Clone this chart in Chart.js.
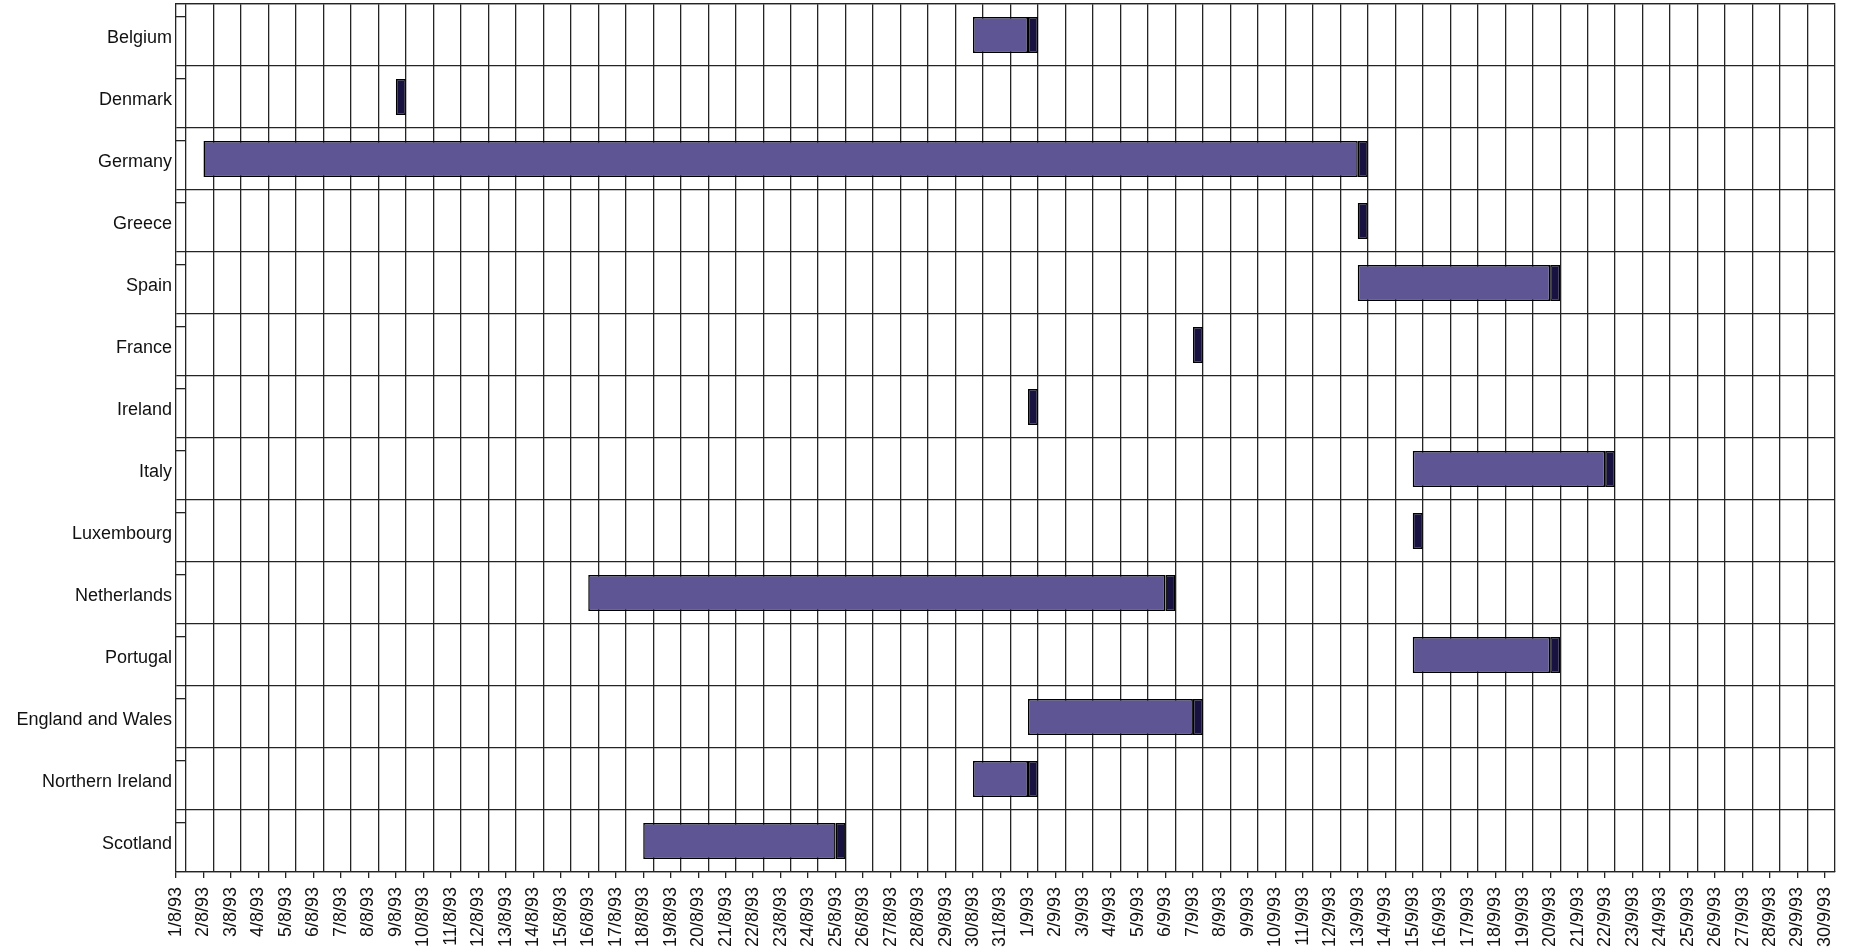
<!DOCTYPE html>
<html>
<head>
<meta charset="utf-8">
<script src="https://cdn.jsdelivr.net/npm/chart.js@4"></script>
<style>
  html, body { margin: 0; padding: 0; background: #fff; }
  #grafico { display: block; }
</style>
</head>
<body>
<canvas id="grafico" width="1850" height="952"></canvas>
<script>
// Paises y fechas de cada tramo
const paises = [
  'Belgium', 'Denmark', 'Germany', 'Greece', 'Spain', 'France', 'Ireland',
  'Italy', 'Luxembourg', 'Netherlands', 'Portugal', 'England and Wales',
  'Northern Ireland', 'Scotland'
];

const fechas = [
  '1/8/93', '2/8/93', '3/8/93', '4/8/93', '5/8/93', '6/8/93', '7/8/93', '8/8/93',
  '9/8/93', '10/8/93', '11/8/93', '12/8/93', '13/8/93', '14/8/93', '15/8/93',
  '16/8/93', '17/8/93', '18/8/93', '19/8/93', '20/8/93', '21/8/93', '22/8/93',
  '23/8/93', '24/8/93', '25/8/93', '26/8/93', '27/8/93', '28/8/93', '29/8/93',
  '30/8/93', '31/8/93',
  '1/9/93', '2/9/93', '3/9/93', '4/9/93', '5/9/93', '6/9/93', '7/9/93', '8/9/93',
  '9/9/93', '10/9/93', '11/9/93', '12/9/93', '13/9/93', '14/9/93', '15/9/93',
  '16/9/93', '17/9/93', '18/9/93', '19/9/93', '20/9/93', '21/9/93', '22/9/93',
  '23/9/93', '24/9/93', '25/9/93', '26/9/93', '27/9/93', '28/9/93', '29/9/93',
  '30/9/93'
];

const inicio = [
  '30/8/93', '9/8/93', '2/8/93', '13/9/93', '13/9/93', '7/9/93', '1/9/93',
  '15/9/93', '15/9/93', '16/8/93', '15/9/93', '1/9/93', '30/8/93', '18/8/93'
];

const fin = [
  '1/9/93', '9/8/93', '13/9/93', '13/9/93', '20/9/93', '7/9/93', '1/9/93',
  '22/9/93', '15/9/93', '6/9/93', '20/9/93', '7/9/93', '1/9/93', '25/8/93'
];

const remateDias = 0.364; // ancho del remate oscuro (fraccion de dia)
const colorBarra = '#5d5594';
const colorRemate = '#17123f';
const colorLinea = '#242424';
const fuente = { family: "'Liberation Sans', Arial, sans-serif", size: 18 };

const barras = paises.map((p, i) => {
  const a = fechas.indexOf(inicio[i]);
  const b = fechas.indexOf(fin[i]);
  return a < b ? [a, b] : null;
});

const remates = paises.map((p, i) => {
  const b = fechas.indexOf(fin[i]);
  return [b, b + remateDias];
});

// quita el relleno automatico que mete Chart.js alrededor de los ejes
function sinRelleno(s) {
  s.paddingTop = 0;
  s.paddingBottom = 0;
  s.paddingLeft = 0;
  s.paddingRight = 0;
}

new Chart(document.getElementById('grafico'), {
  type: 'bar',
  data: {
    labels: paises,
    datasets: [
      {
        label: 'remate',
        data: remates,
        backgroundColor: colorRemate,
        borderColor: '#000',
        borderWidth: 1.5,
        borderSkipped: false,
        barPercentage: 0.58,
        categoryPercentage: 1,
        grouped: false,
        order: 0
      },
      {
        label: 'tramo',
        data: barras,
        backgroundColor: colorBarra,
        borderColor: '#000',
        borderWidth: 1.5,
        borderSkipped: false,
        barPercentage: 0.58,
        categoryPercentage: 1,
        grouped: false,
        order: 1
      }
    ]
  },
  options: {
    indexAxis: 'y',
    responsive: false,
    animation: false,
    layout: { padding: { left: 0, right: 15, top: 4, bottom: 0 } },
    plugins: {
      legend: { display: false },
      tooltip: { enabled: false }
    },
    scales: {
      x: {
        type: 'linear',
        position: 'bottom',
        min: 0,
        max: fechas.length - 1 + remateDias,
        afterBuildTicks: s => { s.ticks = fechas.map((f, i) => ({ value: i })); },
        afterFit: s => { s.height = 80; sinRelleno(s); },
        ticks: {
          autoSkip: false,
          minRotation: 90,
          maxRotation: 90,
          padding: 9,
          color: '#111',
          font: fuente,
          callback: v => fechas[v]
        },
        grid: { drawOnChartArea: false, drawTicks: true, tickLength: 6, color: colorLinea, lineWidth: 1.3 },
        border: { display: true, color: colorLinea, width: 1.3 }
      },
      // lineas verticales desplazadas respecto a las marcas
      x2: {
        type: 'linear',
        position: 'top',
        offset: false,
        min: 0,
        max: fechas.length - 1 + remateDias,
        afterBuildTicks: s => { s.ticks = fechas.map((f, i) => ({ value: i + remateDias })); },
        afterFit: s => { s.height = 0; sinRelleno(s); },
        ticks: { display: false },
        grid: { offset: false, drawOnChartArea: true, drawTicks: false, color: colorLinea, lineWidth: 1.3 },
        border: { display: true, color: colorLinea, width: 1.3 }
      },
      y: {
        type: 'category',
        position: 'left',
        weight: 1,
        offset: true,
        afterFit: s => { s.width = 176; sinRelleno(s); },
        ticks: { padding: 4, labelOffset: 3, color: '#111', font: fuente },
        grid: { offset: true, drawTicks: false, color: colorLinea, lineWidth: 1.3 },
        border: { display: true, color: colorLinea, width: 1.3 }
      },
      // marquitas cortas del eje vertical, hacia dentro
      y2: {
        type: 'linear',
        position: 'left',
        weight: 0,
        offset: false,
        reverse: true,
        min: 0,
        max: paises.length,
        afterBuildTicks: s => { s.ticks = paises.map((p, i) => ({ value: i + 0.21 })); },
        afterFit: s => { s.width = 0; sinRelleno(s); },
        ticks: { display: false },
        grid: { offset: false, drawOnChartArea: false, drawTicks: true, tickLength: -10, color: colorLinea, lineWidth: 1.3 },
        border: { display: false }
      }
    }
  }
});
</script>
</body>
</html>
